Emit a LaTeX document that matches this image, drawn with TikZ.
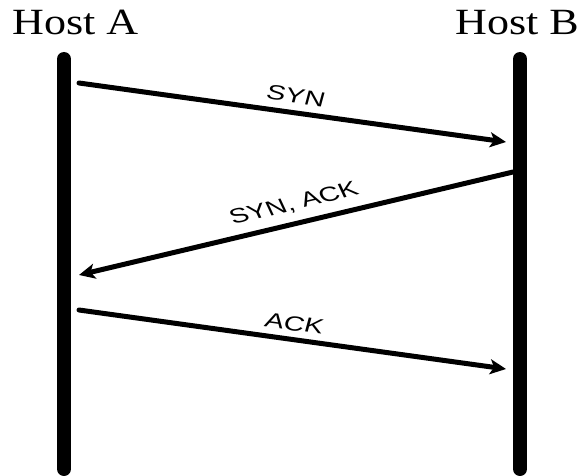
\documentclass[tikz,border=0pt]{standalone}
\usepackage{fontspec}
\setmainfont{Liberation Serif}
\setsansfont{Liberation Sans}
\usetikzlibrary{arrows.meta}
\begin{document}
\begin{tikzpicture}[x=1pt, y=-1pt,
  lifeline/.style={line width=14pt, line cap=round},
  msg/.style={line width=5pt, line cap=round, -{Stealth[length=16pt, width=15pt, inset=4pt]}},
  host/.style={font=\fontsize{37}{40}\selectfont, inner sep=0pt, anchor=base west, xscale=1.19},
  msglabel/.style={font=\sffamily\fontsize{20.5}{22}\selectfont, inner sep=0pt, xscale=1.4}]
\useasboundingbox (0,0) rectangle (581,476);

% host names
\node[host] (hostA) at (12,35) {Host A};
\node[host] (hostB) at (455,35) {Host B};

% lifelines
\coordinate (aTop) at (64,59);
\coordinate (aBot) at (64,469);
\coordinate (bTop) at (520,59);
\coordinate (bBot) at (520,469);
\draw[lifeline] (aTop) -- (aBot);
\draw[lifeline] (bTop) -- (bBot);

% message end points
\coordinate (synS) at (79,83);
\coordinate (synE) at (506,142);
\coordinate (saS) at (513,172);
\coordinate (saE) at (79,275);
\coordinate (ackS) at (79,310);
\coordinate (ackE) at (506,369);

% handshake messages
\draw[msg] (synS) -- (synE);
\draw[msg] (saS) -- (saE);
\draw[msg] (ackS) -- (ackE);

% message labels
\node[msglabel, rotate=-10.9] (synL) at (296,96) {SYN};
\node[msglabel, rotate=18.4] (saL) at (294,204) {SYN, ACK};
\node[msglabel, rotate=-10.9] (ackL) at (294.5,323.5) {ACK};
\end{tikzpicture}
\end{document}
